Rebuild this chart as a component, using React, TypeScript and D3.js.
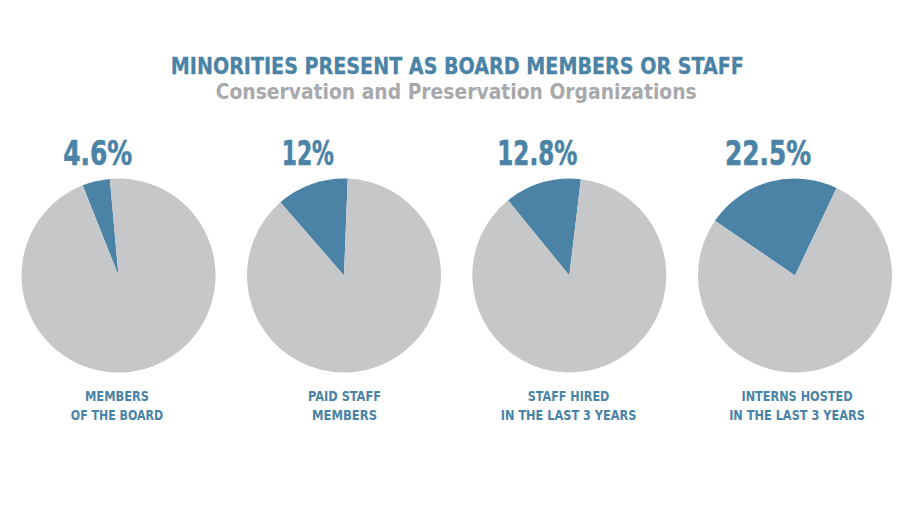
import React from "react";
import * as d3 from "d3";

const title = "MINORITIES PRESENT AS BOARD MEMBERS OR STAFF";
const subtitle = "Conservation and Preservation Organizations";
const percents = [4.6, 12, 12.8, 22.5];
const percentLabels = ["4.6%", "12%", "12.8%", "22.5%"];
const categoryLines = [
  ["MEMBERS", "OF THE BOARD"],
  ["PAID STAFF", "MEMBERS"],
  ["STAFF HIRED", "IN THE LAST 3 YEARS"],
  ["INTERNS HOSTED", "IN THE LAST 3 YEARS"],
];

// layout (not data)
const W = 914;
const H = 506;
const centersX = [118.5, 344, 569.3, 795];
const centerY = 275.5;
const radius = 97;
const startDeg = [-21.7, -41, -39.2, -55.6];
const pctLabelX = [63.3, 281.7, 497.3, 725];
const pctLabelW = [69, 52.3, 80, 86];
const catLabelW = [
  [64, 92.3],
  [73, 65],
  [81.6, 135.7],
  [111, 135.7],
];
const catLabelCx = [117, 344.5, 568.6, 797];

const BLUE = "#4a83a6";
const GREY = "#c6c7c9";
const SUB = "#a7a9ac";
const FONT = "'DejaVu Sans Condensed', 'Liberation Sans Narrow', Roboto, 'DejaVu Sans', sans-serif";

export default function App() {
  const arc = d3.arc<d3.PieArcDatum<number>>().innerRadius(0).outerRadius(radius);
  return (
    <svg width={W} height={H} style={{ position: "absolute", left: 0, top: 0, background: "#fff" }}>
      <rect width={W} height={H} fill="#fff" />
      <text x={457.3} y={74.3} textAnchor="middle" fill={BLUE} stroke={BLUE} strokeWidth={0.3} fontFamily={FONT} fontWeight="bold" fontSize={23.5}
        textLength={573} lengthAdjust="spacingAndGlyphs">{title}</text>
      <text x={456.2} y={99} textAnchor="middle" fill={SUB} fontFamily={FONT} fontWeight="bold" fontSize={20.5}
        textLength={481} lengthAdjust="spacingAndGlyphs">{subtitle}</text>
      {percents.map((p, i) => {
        const pie = d3.pie<number>().sort(null).value((d) => d)
          .startAngle((startDeg[i] * Math.PI) / 180)
          .endAngle((startDeg[i] * Math.PI) / 180 + 2 * Math.PI);
        const arcs = pie([p, 100 - p]);
        return (
          <g key={i}>
            <g transform={`translate(${centersX[i]},${centerY})`}>
              {arcs.map((a, j) => (
                <path key={j} d={arc(a) || ""} fill={j === 0 ? BLUE : GREY} />
              ))}
            </g>
            <text x={pctLabelX[i]} y={165} fill={BLUE} stroke={BLUE} strokeWidth={0.6} fontFamily={FONT} fontWeight="bold" fontSize={34}
              textLength={pctLabelW[i]} lengthAdjust="spacingAndGlyphs">{percentLabels[i]}</text>
            {categoryLines[i].map((line, k) => (
              <text key={k} x={catLabelCx[i]} y={401 + k * 19.2} textAnchor="middle" fill={BLUE} fontFamily={FONT}
                fontWeight="bold" fontSize={14.8} textLength={catLabelW[i][k]} lengthAdjust="spacingAndGlyphs">{line}</text>
            ))}
          </g>
        );
      })}
    </svg>
  );
}
